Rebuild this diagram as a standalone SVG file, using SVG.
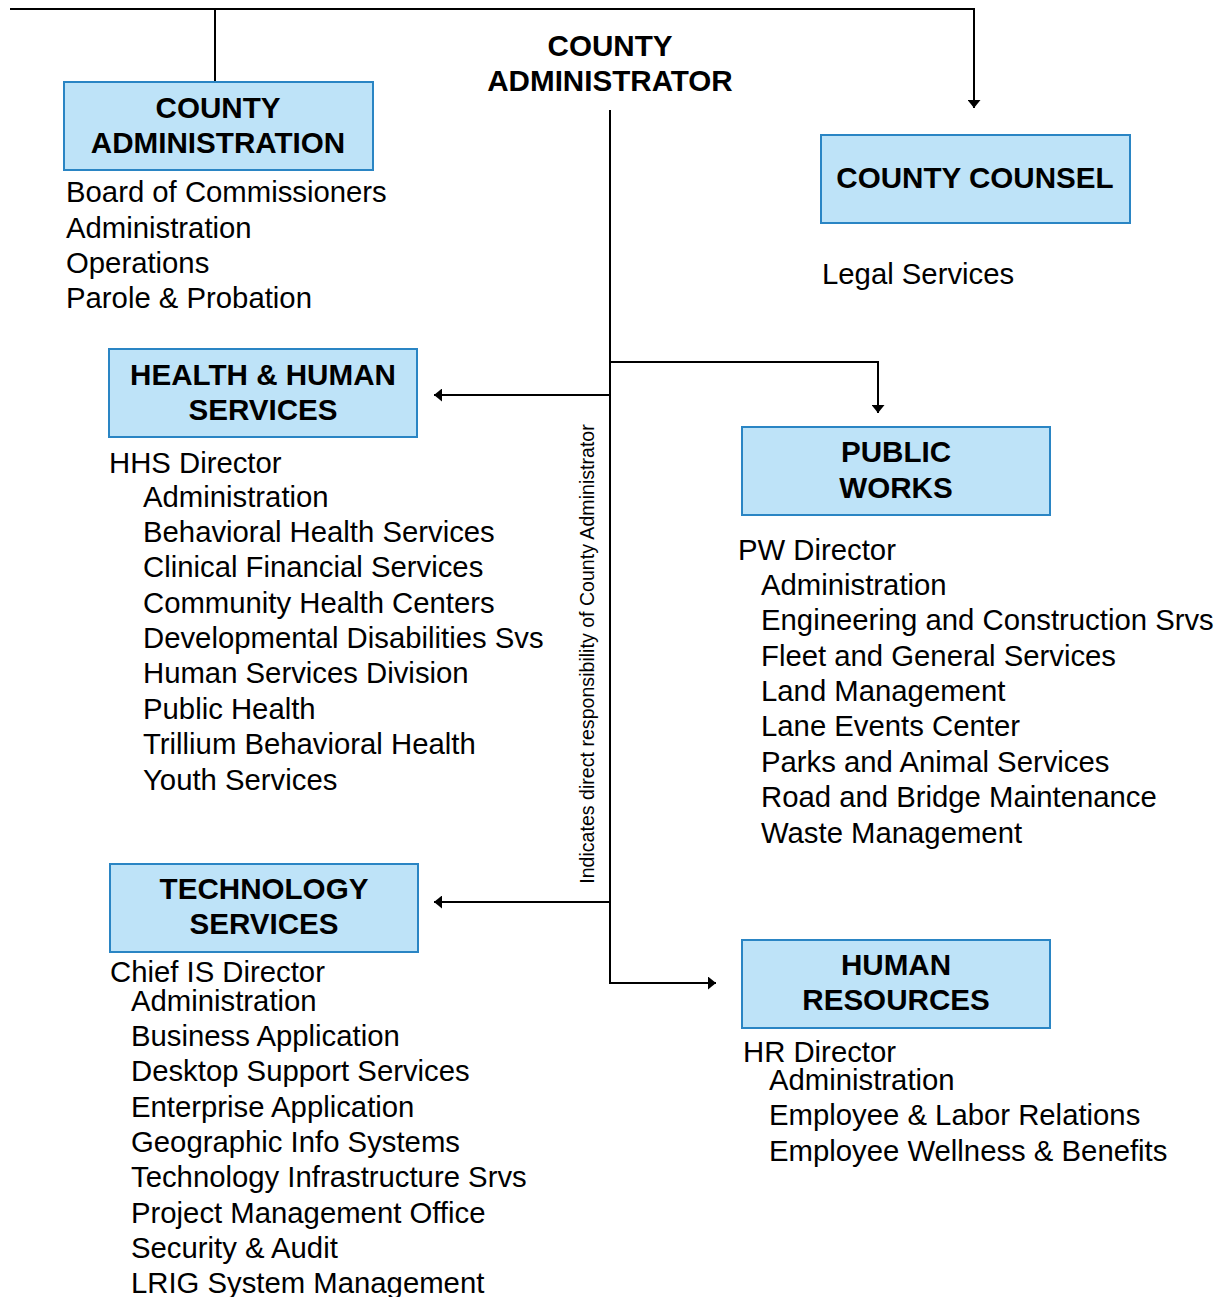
<svg xmlns="http://www.w3.org/2000/svg" width="1220" height="1297" viewBox="0 0 1220 1297">
  <style>
    .box { fill: #bee3f8; stroke: #2a85c4; stroke-width: 2; }
    .title { font-family: "Liberation Sans", Arial, sans-serif; font-weight: bold; font-size: 29.6px; fill: #000; text-anchor: middle; }
    .item { font-family: "Liberation Sans", Arial, sans-serif; font-size: 29.3px; fill: #000; }
    .note { font-family: "Liberation Sans", Arial, sans-serif; font-size: 19.6px; fill: #000; text-anchor: middle; }
    .wire { fill: none; stroke: #000; stroke-width: 2; }
  </style>
  <defs>
    <marker id="arrow" markerWidth="8" markerHeight="13" refX="8" refY="6.5" orient="auto" markerUnits="userSpaceOnUse">
      <path d="M0,0 L8,6.5 L0,13 Z" fill="#000"/>
    </marker>
  </defs>

  <!-- connectors -->
  <g id="connectors">
    <path class="wire" d="M10,9 H974 V108" marker-end="url(#arrow)"/>
    <path class="wire" d="M215,9 V82"/>
    <path class="wire" d="M610,110 V983 H716" marker-end="url(#arrow)"/>
    <path class="wire" d="M610,362 H878 V413" marker-end="url(#arrow)"/>
    <path class="wire" d="M610,395 H434" marker-end="url(#arrow)"/>
    <path class="wire" d="M610,902 H434" marker-end="url(#arrow)"/>
    <text class="note" transform="translate(594,654) rotate(-90)">Indicates direct responsibility of County Administrator</text>
  </g>

  <!-- top of the chart -->
  <g id="county-administrator">
    <text class="title" x="610" y="56">COUNTY</text>
    <text class="title" x="610" y="91">ADMINISTRATOR</text>
  </g>

  <g id="county-administration">
    <rect class="box" x="64" y="82" width="309" height="88"/>
    <text class="title" x="218" y="118">COUNTY</text>
    <text class="title" x="218" y="153">ADMINISTRATION</text>
    <text class="item" x="66" y="202">Board of Commissioners</text>
    <text class="item" x="66" y="238">Administration</text>
    <text class="item" x="66" y="273">Operations</text>
    <text class="item" x="66" y="308">Parole &amp; Probation</text>
  </g>

  <g id="county-counsel">
    <rect class="box" x="821" y="135" width="309" height="88"/>
    <text class="title" x="975" y="188">COUNTY COUNSEL</text>
    <text class="item" x="822" y="284">Legal Services</text>
  </g>

  <g id="health-human-services">
    <rect class="box" x="109" y="349" width="308" height="88"/>
    <text class="title" x="263" y="385">HEALTH &amp; HUMAN</text>
    <text class="title" x="263" y="420">SERVICES</text>
    <text class="item" x="109" y="473">HHS Director</text>
    <text class="item" x="143" y="507">Administration</text>
    <text class="item" x="143" y="542">Behavioral Health Services</text>
    <text class="item" x="143" y="577">Clinical Financial Services</text>
    <text class="item" x="143" y="613">Community Health Centers</text>
    <text class="item" x="143" y="648">Developmental Disabilities Svs</text>
    <text class="item" x="143" y="683">Human Services Division</text>
    <text class="item" x="143" y="719">Public Health</text>
    <text class="item" x="143" y="754">Trillium Behavioral Health</text>
    <text class="item" x="143" y="790">Youth Services</text>
  </g>

  <g id="public-works">
    <rect class="box" x="742" y="427" width="308" height="88"/>
    <text class="title" x="896" y="462">PUBLIC</text>
    <text class="title" x="896" y="498">WORKS</text>
    <text class="item" x="738" y="560">PW Director</text>
    <text class="item" x="761" y="595">Administration</text>
    <text class="item" x="761" y="630">Engineering and Construction Srvs</text>
    <text class="item" x="761" y="666">Fleet and General Services</text>
    <text class="item" x="761" y="701">Land Management</text>
    <text class="item" x="761" y="736">Lane Events Center</text>
    <text class="item" x="761" y="772">Parks and Animal Services</text>
    <text class="item" x="761" y="807">Road and Bridge Maintenance</text>
    <text class="item" x="761" y="843">Waste Management</text>
  </g>

  <g id="technology-services">
    <rect class="box" x="110" y="864" width="308" height="88"/>
    <text class="title" x="264" y="899">TECHNOLOGY</text>
    <text class="title" x="264" y="934">SERVICES</text>
    <text class="item" x="110" y="982">Chief IS Director</text>
    <text class="item" x="131" y="1011">Administration</text>
    <text class="item" x="131" y="1046">Business Application</text>
    <text class="item" x="131" y="1081">Desktop Support Services</text>
    <text class="item" x="131" y="1117">Enterprise Application</text>
    <text class="item" x="131" y="1152">Geographic Info Systems</text>
    <text class="item" x="131" y="1187">Technology Infrastructure Srvs</text>
    <text class="item" x="131" y="1223">Project Management Office</text>
    <text class="item" x="131" y="1258">Security &amp; Audit</text>
    <text class="item" x="131" y="1293">LRIG System Management</text>
  </g>

  <g id="human-resources">
    <rect class="box" x="742" y="940" width="308" height="88"/>
    <text class="title" x="896" y="975">HUMAN</text>
    <text class="title" x="896" y="1010">RESOURCES</text>
    <text class="item" x="743" y="1062">HR Director</text>
    <text class="item" x="769" y="1090">Administration</text>
    <text class="item" x="769" y="1125">Employee &amp; Labor Relations</text>
    <text class="item" x="769" y="1161">Employee Wellness &amp; Benefits</text>
  </g>
</svg>
